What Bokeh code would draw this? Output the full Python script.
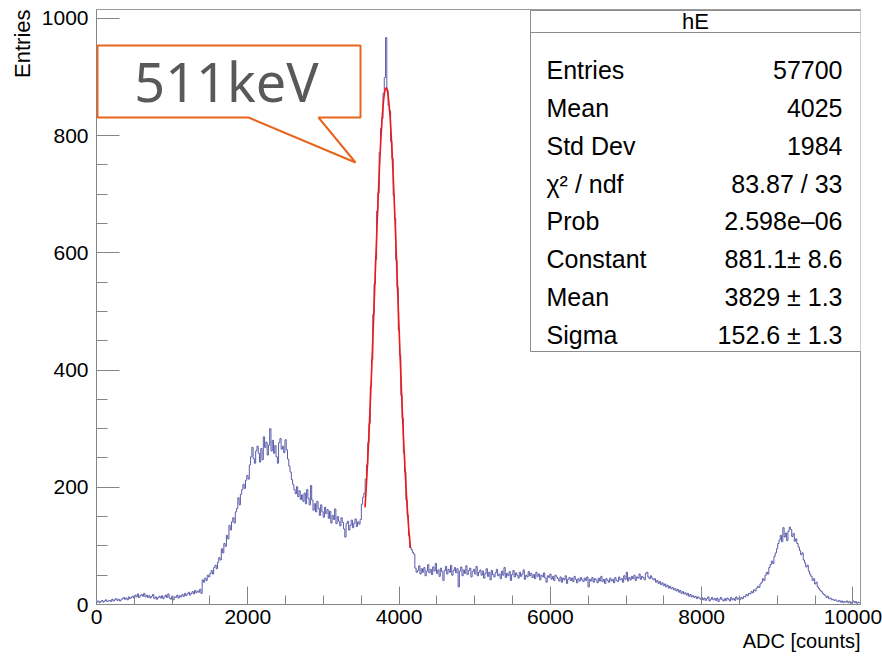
import numpy as np
from bokeh.plotting import figure
from bokeh.models import Range1d, FixedTicker, Label, BoxAnnotation, PolyAnnotation, Title
from bokeh.embed import file_html
from bokeh.resources import INLINE

# Histogram hE: 600 equal bins of ADC counts between x_min and x_max
x_min, x_max = 0.0, 10100.0
counts = [
    # 0 - 1414
    4, 6, 3, 5, 7, 4, 6, 8, 5, 6,
    7, 5, 9, 6, 8, 10, 7, 9, 6, 8,
    10, 12, 9, 11, 8, 13, 10, 12, 14, 11,
    16, 13, 18, 12, 15, 17, 14, 19, 13, 16,
    12, 15, 11, 14, 17, 10, 13, 9, 12, 14,
    11, 15, 10, 13, 16, 12, 18, 11, 9, 14,
    8, 13, 12, 16, 11, 15, 13, 17, 14, 19,
    15, 18, 21, 16, 19, 22, 18, 24, 20, 23,
    21, 26, 19, 42,
    # Compton rise
    38, 45, 41, 50, 47, 53,
    58, 52, 63, 67, 61, 72,
    80, 76, 95, 88, 104, 99,
    118, 112, 135, 127, 141, 148,
    139, 158, 164, 182, 170, 188,
    196, 205, 198, 212, 220, 214,
    # Compton plateau and valley
    238, 252, 268, 249, 241, 262,
    270, 258, 243, 266, 247, 286,
    268, 277, 255, 272, 300, 262,
    280, 258, 271, 252, 241, 276,
    283, 265, 270, 259, 281, 264,
    248, 236, 226, 213, 205, 196,
    189, 201, 184, 194, 179, 187,
    176, 190, 172, 196, 181, 170,
    203, 178, 161, 172, 158, 176,
    164, 152, 170, 158, 149, 166,
    155, 162, 147, 159, 139, 152,
    145, 163, 138, 150, 142, 134,
    148, 140, 129, 115, 138, 142,
    127, 135, 144, 131, 139, 146,
    133, 141, 137, 145,
    # 511 keV photopeak
    171, 183, 190, 214, 238, 276, 309, 372, 418, 495,
    547, 589, 671, 702, 771, 812, 829, 872, 899, 967,
    878, 851, 842, 790, 761, 698, 659, 588, 541, 468,
    425, 357, 318, 259, 226, 178, 152, 118, 97,
    94, 89, 86, 62, 55,
    # flat continuum
    58, 66, 52, 61, 55, 63, 49, 57, 68, 54,
    60, 51, 64, 57, 70, 53, 59, 48, 62, 56,
    41, 58, 65, 52, 60, 55, 67, 50, 58, 63,
    54, 61, 30, 57, 64, 49, 59, 53, 66, 51,
    58, 62, 47, 56, 60, 52, 65, 49, 55, 59,
    50, 57, 45, 53, 61, 48, 55, 42, 58, 51,
    47, 54, 60, 49, 52, 44, 57, 50, 63, 46,
    53, 49, 56, 41, 51, 58, 47, 54, 50, 45,
    55, 48, 52, 59, 43, 50, 47, 56, 49, 53,
    46, 51, 44, 55, 48, 52, 42, 50, 47, 54,
    45, 38, 49, 46, 52, 43, 48, 41, 50, 47,
    44, 40, 47, 38, 45, 42, 49, 36, 43, 46,
    41, 45, 39, 48, 43, 37, 44, 40, 46, 42,
    39, 45, 41, 47, 30, 43, 40, 46, 38, 44,
    42, 37, 45, 40, 48, 39, 43, 36, 44, 41,
    38, 45, 40, 43, 37, 46, 41, 39, 47, 42,
    44, 38, 49, 43, 55, 40, 46, 42, 48, 44,
    50, 41, 47, 45, 52, 43, 48, 46, 42, 53,
    55, 47, 44, 49, 45, 42,
    # Compton edge of the high-energy line
    44, 38, 41, 36, 39, 34, 37, 32, 35, 30,
    33, 28, 31, 27, 29, 25, 27, 23, 26, 21,
    24, 19, 22, 18, 20, 16, 19, 14, 17, 13,
    15, 12, 14, 10, 13, 11, 9, 12,
    8, 11, 7, 10, 13, 6, 9, 12, 8, 10,
    7, 11, 5, 9, 12, 8, 6, 10, 7, 11,
    9, 6, 12, 8, 10, 7, 13, 9, 11, 8,
    # high-energy photopeak
    12, 10, 14, 13, 17, 15, 19, 18, 22, 20,
    25, 23, 28, 31, 29, 35, 38, 44, 41, 50,
    55, 52, 63, 68, 74, 70, 82, 88, 95, 104,
    110, 118, 107, 131, 115, 122, 109, 125, 132, 128,
    116, 121, 108, 112, 104,
    98, 92, 85, 88, 76, 71, 64, 67, 57, 52,
    48, 41, 44, 35, 38, 30, 27, 24, 22, 19,
    17, 15, 12, 14, 10, 11, 8, 9, 7, 8,
    6, 5, 7, 4, 6, 3, 5, 4, 6, 3,
    5, 2, 4, 6, 3, 5, 2, 4, 3,
]

# Gaussian fit of the 511 keV peak
fit_constant = 881.1
fit_mean = 3829.0
fit_sigma = 152.6
fit_lo, fit_hi = 3550.0, 4150.0

# Statistics box
stats_title = "hE"
stat_names = ["Entries", "Mean", "Std Dev", "\u03c7\u00b2 / ndf", "Prob",
              "Constant", "Mean", "Sigma"]
stat_values = ["57700", "4025", "1984", "83.87 / 33", "2.598e\u201306",
               "881.1\u00b1 8.6", "3829 \u00b1 1.3", "152.6 \u00b1 1.3"]

x_ticks = [0, 2000, 4000, 6000, 8000, 10000]
x_minor = list(range(0, 10101, 500))
y_ticks = [0, 200, 400, 600, 800, 1000]
y_minor = list(range(0, 1001, 50))

y_top = 1015.0

FONT = "Liberation Sans"
AXIS_GREY = "#858585"

p = figure(width=882, height=658,
           x_range=Range1d(x_min, x_max), y_range=Range1d(0, y_top),
           output_backend="svg", toolbar_location=None,
           min_border_left=96, min_border_right=22,
           min_border_top=9, min_border_bottom=54)
p.grid.visible = False
p.background_fill_color = "white"
p.border_fill_color = "white"
p.outline_line_color = "#9a9a9a"
p.outline_line_width = 1

# axes with inward ticks
p.xaxis.ticker = FixedTicker(ticks=x_ticks, minor_ticks=x_minor)
p.yaxis.ticker = FixedTicker(ticks=y_ticks, minor_ticks=y_minor)
for ax in (p.xaxis, p.yaxis):
    ax.axis_line_color = AXIS_GREY
    ax.major_tick_line_color = AXIS_GREY
    ax.minor_tick_line_color = AXIS_GREY
    ax.major_tick_out = 0
    ax.minor_tick_out = 0
    ax.major_label_text_font = FONT
    ax.major_label_text_font_size = "21px"
    ax.major_label_text_color = "black"
p.xaxis.major_tick_in = 18
p.xaxis.minor_tick_in = 9
p.yaxis.major_tick_in = 23
p.yaxis.minor_tick_in = 11
p.xaxis.major_label_standoff = 5
p.yaxis.major_label_standoff = 8

# axis titles, right-aligned at the far end of each axis
p.add_layout(Title(text="ADC [counts]", align="right", standoff=2,
                   text_font=FONT, text_font_size="20px",
                   text_font_style="normal", text_color="black"), "below")
p.add_layout(Title(text="Entries", align="right", standoff=7,
                   text_font=FONT, text_font_size="22px",
                   text_font_style="normal", text_color="black"), "left")

# histogram outline
edges = np.linspace(x_min, x_max, len(counts) + 1)
step_y = list(counts) + [counts[-1]]
p.step(edges, step_y, mode="after", line_color="#5b5bab", line_width=1)

# fitted gaussian
fx = np.linspace(fit_lo, fit_hi, 300)
fy = fit_constant * np.exp(-0.5 * ((fx - fit_mean) / fit_sigma) ** 2)
p.line(fx, fy, line_color="#f01818", line_width=1.6)

# helpers: pixel positions from the canvas top-left, converted to frame units
FL, FB = 96, 604


def sx(px):
    return px - FL


def sy(py):
    return FB - py


# statistics box
p.add_layout(BoxAnnotation(left=sx(530), right=sx(861), top=sy(10), bottom=sy(351),
                           left_units="screen", right_units="screen",
                           top_units="screen", bottom_units="screen",
                           fill_color="white", fill_alpha=1.0,
                           line_color="#8c8c8c", line_width=1, line_alpha=1.0))
p.add_layout(BoxAnnotation(left=sx(530), right=sx(861), top=sy(10), bottom=sy(32),
                           left_units="screen", right_units="screen",
                           top_units="screen", bottom_units="screen",
                           fill_alpha=0.0,
                           line_color="#8c8c8c", line_width=1, line_alpha=1.0))
p.add_layout(Label(x=sx(695), y=sy(20.5), x_units="screen", y_units="screen",
                   text=stats_title, text_align="center", text_baseline="middle",
                   text_font=FONT, text_font_size="22px", text_color="black"))
for i, (name, val) in enumerate(zip(stat_names, stat_values)):
    mid = 69.7 + 37.8 * i
    p.add_layout(Label(x=sx(546), y=sy(mid), x_units="screen", y_units="screen",
                       text=name, text_align="left", text_baseline="middle",
                       text_font=FONT, text_font_size="25px", text_color="black"))
    p.add_layout(Label(x=sx(842), y=sy(mid), x_units="screen", y_units="screen",
                       text=val, text_align="right", text_baseline="middle",
                       text_font=FONT, text_font_size="25px", text_color="black"))

# callout pointing at the photopeak
callout_px = [(97, 45), (360, 45), (360, 117), (318, 117), (355, 162),
              (248, 117), (97, 117)]
p.add_layout(PolyAnnotation(xs=[sx(a) for a, b in callout_px],
                            ys=[sy(b) for a, b in callout_px],
                            xs_units="screen", ys_units="screen",
                            fill_color="white", fill_alpha=1.0,
                            line_color="#e8651d", line_width=2, line_alpha=1.0))
p.add_layout(Label(x=sx(226), y=sy(80), x_units="screen", y_units="screen",
                   text="511keV", text_align="center", text_baseline="middle",
                   text_font="Noto Sans", text_font_size="54px", text_color="#595959"))

open("out.html", "w").write(file_html(p, INLINE))
